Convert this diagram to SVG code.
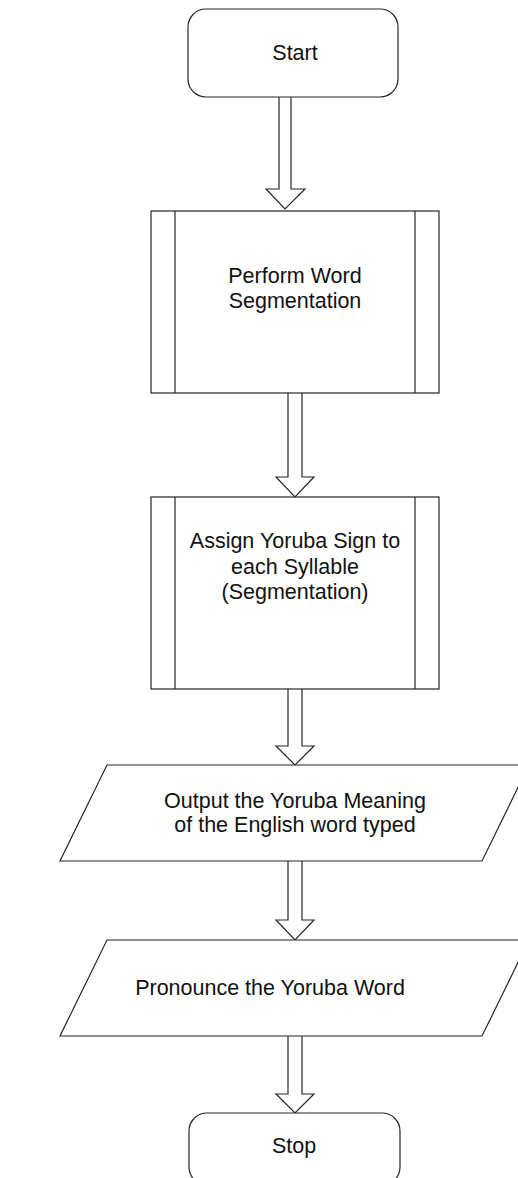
<svg xmlns="http://www.w3.org/2000/svg" width="518" height="1178" viewBox="0 0 518 1178">
<style>
.s{fill:#fff;stroke:#262626;stroke-width:1.2}
.l{fill:none;stroke:#262626;stroke-width:1.2}
.t{font-family:"Liberation Sans",Arial,sans-serif;font-size:21.5px;fill:#111;text-anchor:middle}
</style>
<rect width="518" height="1178" fill="#fff"/>
<g id="connectors">
<path class="s" d="M279,97 V189 H266 L285,209 L305,189 H291 V97"/>
<path class="s" d="M288,393 V477 H276 L295,497 L314,477 H302 V393"/>
<path class="s" d="M288,689 V746 H276 L295,765 L314,746 H302 V689"/>
<path class="s" d="M288,861 V920 H276 L295,940 L314,920 H302 V861"/>
<path class="s" d="M288,1036 V1094 H276 L295,1113 L314,1094 H302 V1036"/>
</g>
<g id="start">
<rect class="s" x="188" y="9" width="210" height="88" rx="18"/>
<text class="t" x="295" y="60">Start</text>
</g>
<g id="segment">
<rect class="s" x="151" y="211" width="288" height="182"/>
<line class="l" x1="175" y1="211" x2="175" y2="393"/>
<line class="l" x1="415" y1="211" x2="415" y2="393"/>
<text class="t" x="295" y="283">Perform Word</text>
<text class="t" x="295" y="308">Segmentation</text>
</g>
<g id="assign">
<rect class="s" x="151" y="497" width="288" height="192"/>
<line class="l" x1="175" y1="497" x2="175" y2="689"/>
<line class="l" x1="415" y1="497" x2="415" y2="689"/>
<text class="t" x="295" y="548">Assign Yoruba Sign to</text>
<text class="t" x="295" y="574">each Syllable</text>
<text class="t" x="295" y="599">(Segmentation)</text>
</g>
<g id="output">
<path class="s" d="M107,765 H529 L482,861 H60 Z"/>
<text class="t" x="295" y="808">Output the Yoruba Meaning</text>
<text class="t" x="295" y="832">of the English word typed</text>
</g>
<g id="pronounce">
<path class="s" d="M107,940 H529 L482,1036 H60 Z"/>
<text class="t" x="270" y="995">Pronounce the Yoruba Word</text>
</g>
<g id="stop">
<rect class="s" x="189" y="1113" width="211" height="72" rx="18"/>
<text class="t" x="294" y="1153">Stop</text>
</g>
</svg>
